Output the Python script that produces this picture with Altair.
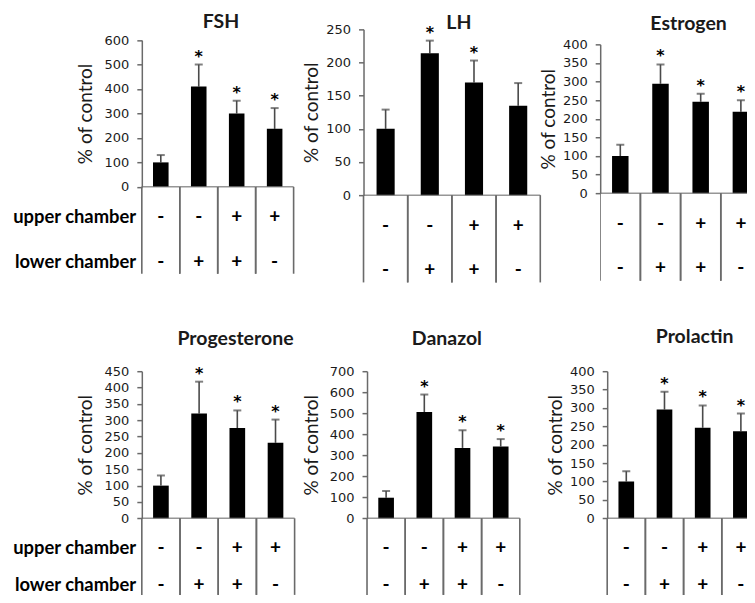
import altair as alt
import pandas as pd

# ---------------- data ----------------
categories = ["c1", "c2", "c3", "c4"]
row_names = ["upper chamber", "lower chamber"]
upper_signs = ["-", "-", "+", "+"]
lower_signs = ["-", "+", "+", "-"]

hormones = ["FSH", "LH", "Estrogen", "Progesterone", "Danazol", "Prolactin"]

fsh_mean = [100, 410, 300, 237]
fsh_sem = [30, 90, 52, 85]
fsh_sig = [0, 1, 1, 1]

lh_mean = [100, 214, 170, 135]
lh_sem = [29, 19, 33, 34]
lh_sig = [0, 1, 1, 0]

est_mean = [100, 294, 246, 219]
est_sem = [30, 52, 21, 31]
est_sig = [0, 1, 1, 1]

prog_mean = [100, 321, 276, 231]
prog_sem = [31, 97, 54, 71]
prog_sig = [0, 1, 1, 1]

dan_mean = [98, 506, 335, 342]
dan_sem = [32, 83, 84, 35]
dan_sig = [0, 1, 1, 1]

prl_mean = [100, 296, 246, 237]
prl_sem = [28, 48, 61, 48]
prl_sig = [0, 1, 1, 1]

y_max = [600, 250, 400, 450, 700, 400]
y_step = [100, 50, 50, 50, 100, 50]

# ---------------- styling / layout (pixels, not data) ----------------
AX = "#6a6a6a"
EC = "#4a4a4a"
TXT = "#1a1a1a"
FONT = "DejaVu Sans"
LFONT = "Lato"

view_w = [221.8, 236.5, 147, 221.8, 236.5, 147]
view_h = [253.4, 253.4, 253.4, 224, 224, 224]
band_l = [0, 0, 0, 0, 3.5, 7]          # left edge of first band inside view
band_w = [152, 177, 161, 153, 153, 153]  # total band width
y_zero = [157.7, 166, 164, 147.3, 147.3, 147.3]  # pixel of value 0
y_top = [10.7, 0, 15, 0, 0, 0]                   # pixel of axis max
row_y1 = [188.2, 196.7, 194.7, 177, 177, 177]
row_y2 = [233.2, 240.7, 238.7, 214.5, 214.5, 214.5]
tbl_bot = [244.7, 253.4, 251.7, 224, 224, 224]
ytitle_x = [-56.7, -51.8, -52, -56.7, -55.3, -52]
title_dx = [79.3, 95.5, 88.5, 93.8, 80, 87.5]     # title centre from first band edge
title_dy = [-18, -6.6, -20.6, -32, -32.3, -34]   # title centre above axis top
clip = [False, False, True, False, False, True]


def panel(i, name, mean, sem, sig, show_labels):
    df = pd.DataFrame({
        "cat": categories,
        "mean": mean,
        "top": [m + s for m, s in zip(mean, sem)],
        "sig": sig,
    })
    tdf = pd.DataFrame({
        "cat": categories * 2,
        "row": [row_names[0]] * 4 + [row_names[1]] * 4,
        "sign": upper_signs + lower_signs,
    })
    edges = pd.DataFrame({"cat": categories})
    ldf = pd.DataFrame({"cat": [categories[0]] * 2, "row": row_names})
    hdf = pd.DataFrame({"cat": [categories[0]], "name": [name], "ymax": [y_max[i]]})
    c = clip[i]

    xs = alt.Scale(domain=categories, range=[band_l[i], band_l[i] + band_w[i]],
                   paddingInner=0, paddingOuter=0)

    def X(bp=None):
        if bp is None:
            return alt.X("cat:N", sort=categories, scale=xs, axis=None)
        return alt.X("cat:N", sort=categories, scale=xs, axis=None, bandPosition=bp)

    ys = alt.Scale(domain=[0, y_max[i]], range=[y_zero[i], y_top[i]], nice=False, zero=False)
    yaxis = alt.Axis(values=list(range(0, y_max[i] + 1, y_step[i])), title="% of control",
                     titleX=ytitle_x[i], titleY=(y_zero[i] + y_top[i]) / 2,
                     titleBaseline="middle", titleAlign="center", titleAngle=270,
                     titleFont=LFONT, titleFontSize=19, titleFontWeight="normal",
                     titleColor=TXT,
                     offset=-band_l[i], tickSize=5, labelPadding=8, grid=False,
                     labelOverlap=False, labelFlush=False,
                     domainColor=AX, domainWidth=1.5, tickColor=AX, tickWidth=1.5,
                     labelFontSize=13, labelColor=TXT)
    frame = alt.Scale(domain=[0, 1], range=[y_zero[i], tbl_bot[i]])
    rows = alt.Scale(type="point", domain=row_names, range=[row_y1[i], row_y2[i]], padding=0)

    base = alt.Chart(df)
    err = base.mark_rule(color=EC, strokeWidth=1.6, clip=c).encode(
        x=X(), y=alt.Y("mean:Q", scale=ys, axis=None), y2="top:Q")
    bar = base.mark_bar(color="black", width=alt.RelativeBandSize(0.41), clip=c).encode(
        x=X(), y=alt.Y("mean:Q", scale=ys, axis=yaxis))
    cap = base.mark_tick(color=EC, size=8, thickness=2, clip=c).encode(
        x=X(), y=alt.Y("top:Q", scale=ys, axis=None))
    star = base.transform_filter("datum.sig == 1").mark_text(
        text="*", fontSize=16, fontWeight="bold", color="black", baseline="alphabetic",
        dy=-3, clip=c).encode(
        x=X(), y=alt.Y("top:Q", scale=ys, axis=None))

    ebase = alt.Chart(edges)
    zero_line = ebase.mark_tick(color=AX, size=band_w[i] / 4, thickness=1.5, clip=c).encode(
        x=X(), y=alt.Y(datum=0, type="quantitative", scale=ys, axis=None))
    left = ebase.mark_rule(color=AX, strokeWidth=1.6, clip=c).encode(
        x=X(0), y=alt.Y(datum=0, type="quantitative", scale=frame, axis=None),
        y2=alt.Y2(datum=1))
    right = ebase.mark_rule(color=AX, strokeWidth=1.6, clip=c).encode(
        x=X(1), y=alt.Y(datum=0, type="quantitative", scale=frame, axis=None),
        y2=alt.Y2(datum=1))
    signs = alt.Chart(tdf).mark_text(font=LFONT, fontSize=19, fontWeight="bold",
                                     color="black", clip=c).encode(
        x=X(), y=alt.Y("row:N", sort=row_names, scale=rows, axis=None), text="sign:N")
    heading = alt.Chart(hdf).mark_text(font=LFONT, fontSize=19.5, fontWeight="bold",
                                       color=TXT, align="center", baseline="middle",
                                       dx=title_dx[i], dy=title_dy[i]).encode(
        x=X(0), y=alt.Y("ymax:Q", scale=ys, axis=None), text="name:N")

    layers = [err, bar, cap, star, zero_line, left, right, signs, heading]
    if show_labels:
        labels = alt.Chart(ldf).mark_text(font=LFONT, fontSize=18.4, fontWeight="bold",
                                          color="black", align="right", baseline="middle",
                                          dx=-5.7).encode(
            x=X(0), y=alt.Y("row:N", sort=row_names, scale=rows, axis=None), text="row:N")
        # fixes the left edge of the layout independently of the label width
        edge = alt.Chart(ldf.head(1)).mark_text(text=" ", align="left", baseline="middle",
                                                fontSize=10, opacity=0, dx=-133.7).encode(
            x=X(0), y=alt.Y("row:N", sort=row_names, scale=rows, axis=None))
        layers += [labels, edge]

    return alt.layer(*layers).resolve_scale(y="independent").properties(
        width=view_w[i], height=view_h[i])


means = [fsh_mean, lh_mean, est_mean, prog_mean, dan_mean, prl_mean]
sems = [fsh_sem, lh_sem, est_sem, prog_sem, dan_sem, prl_sem]
sigs = [fsh_sig, lh_sig, est_sig, prog_sig, dan_sig, prl_sig]

panels = [panel(i, hormones[i], means[i], sems[i], sigs[i], i in (0, 3)) for i in range(6)]

chart = alt.concat(*panels, columns=3, spacing={"row": 88.3, "column": 0},
                   bounds="flush", align="each").properties(
    padding={"left": 0, "top": 3, "right": 0, "bottom": 0}
).configure(font=FONT).configure_view(stroke=None)

chart.save("out.html", embed_options={"renderer": "svg", "actions": False})
